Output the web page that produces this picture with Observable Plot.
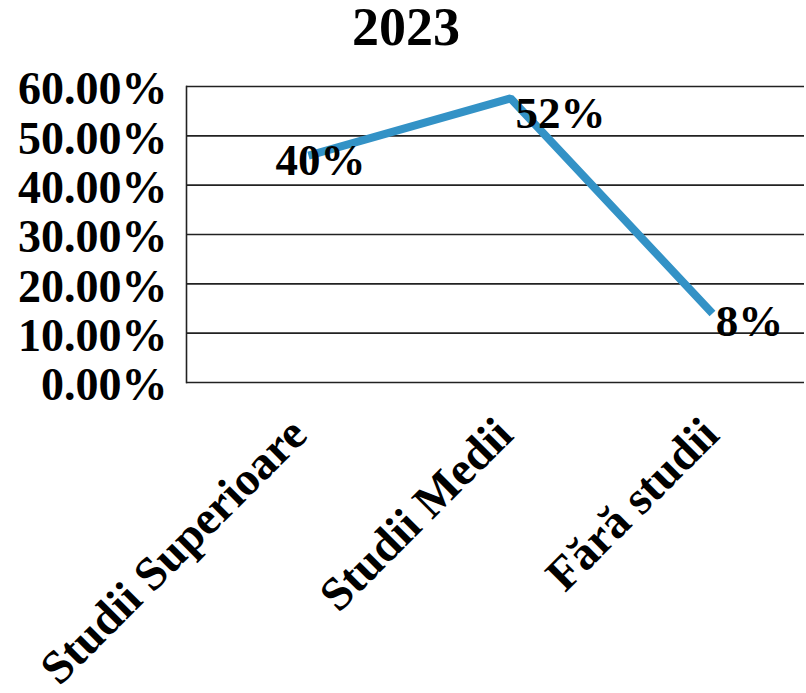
<!DOCTYPE html>
<html>
<head>
<meta charset="utf-8">
<script src="https://cdn.jsdelivr.net/npm/d3@7"></script>
<script src="https://cdn.jsdelivr.net/npm/@observablehq/plot@0.6"></script>
<style>
  html, body { margin: 0; padding: 0; background: #fff; }
  #title { width: 812px; height: 60px; line-height: 54px; text-align: center;
    font-family: "Liberation Serif", "Times New Roman", serif; font-weight: bold; font-size: 54px; color: #000; }
  svg { display: block; }
</style>
</head>
<body>
<div id="title">2023</div>
<div id="chart"></div>
<script>
const categories = ["Studii Superioare", "Studii Medii", "Fără studii"];
const values = [0.46, 0.576, 0.14];
const valueLabels = ["40%", "52%", "8%"];
const yTicks = [0, 0.1, 0.2, 0.3, 0.4, 0.5, 0.6];

const data = categories.map((c, i) => ({cat: c, value: values[i], label: valueLabels[i]}));

const serif = "Liberation Serif, Times New Roman, serif";
const labelOffsets = [[12, 5], [50, 15], [37, 8]];
const catOffsets = [-10, -6, -2];

const marks = [
  Plot.ruleY(yTicks, {stroke: "#222", strokeWidth: 1.6}),
  Plot.frame({anchor: "left", stroke: "#222", strokeWidth: 1.6}),
  Plot.axisY(yTicks, {tickSize: 0, tickPadding: 19, tickFormat: d3.format(".2%"), fontSize: 46, fontWeight: "bold", fontFamily: serif, fill: "#000", dy: 3, label: null}),
  ...categories.map((c, i) => Plot.axisX([c], {tickSize: 0, tickPadding: 0, rotate: -45, textAnchor: "end", lineAnchor: "middle", dx: catOffsets[i], dy: 44, fontSize: 47, fontWeight: "bold", fontFamily: serif, fill: "#000", label: null})),
  Plot.line(data, {x: "cat", y: "value", stroke: "#3392C6", strokeWidth: 8, strokeLinejoin: "miter", strokeLinecap: "butt"}),
  ...data.map((d, i) => Plot.text([d], {x: "cat", y: "value", text: "label", dx: labelOffsets[i][0], dy: labelOffsets[i][1], fontSize: 45, fontWeight: "bold", fontFamily: serif, fill: "#000"}))
];

const chart = Plot.plot({
  width: 806,
  height: 633,
  marginLeft: 186,
  marginRight: 2,
  marginTop: 26,
  marginBottom: 311,
  style: {background: "#fff", overflow: "visible"},
  x: {type: "point", domain: categories, padding: 0, insetLeft: 122, insetRight: 92},
  y: {domain: [0, 0.6]},
  marks
});
document.getElementById("chart").appendChild(chart);
</script>
</body>
</html>
